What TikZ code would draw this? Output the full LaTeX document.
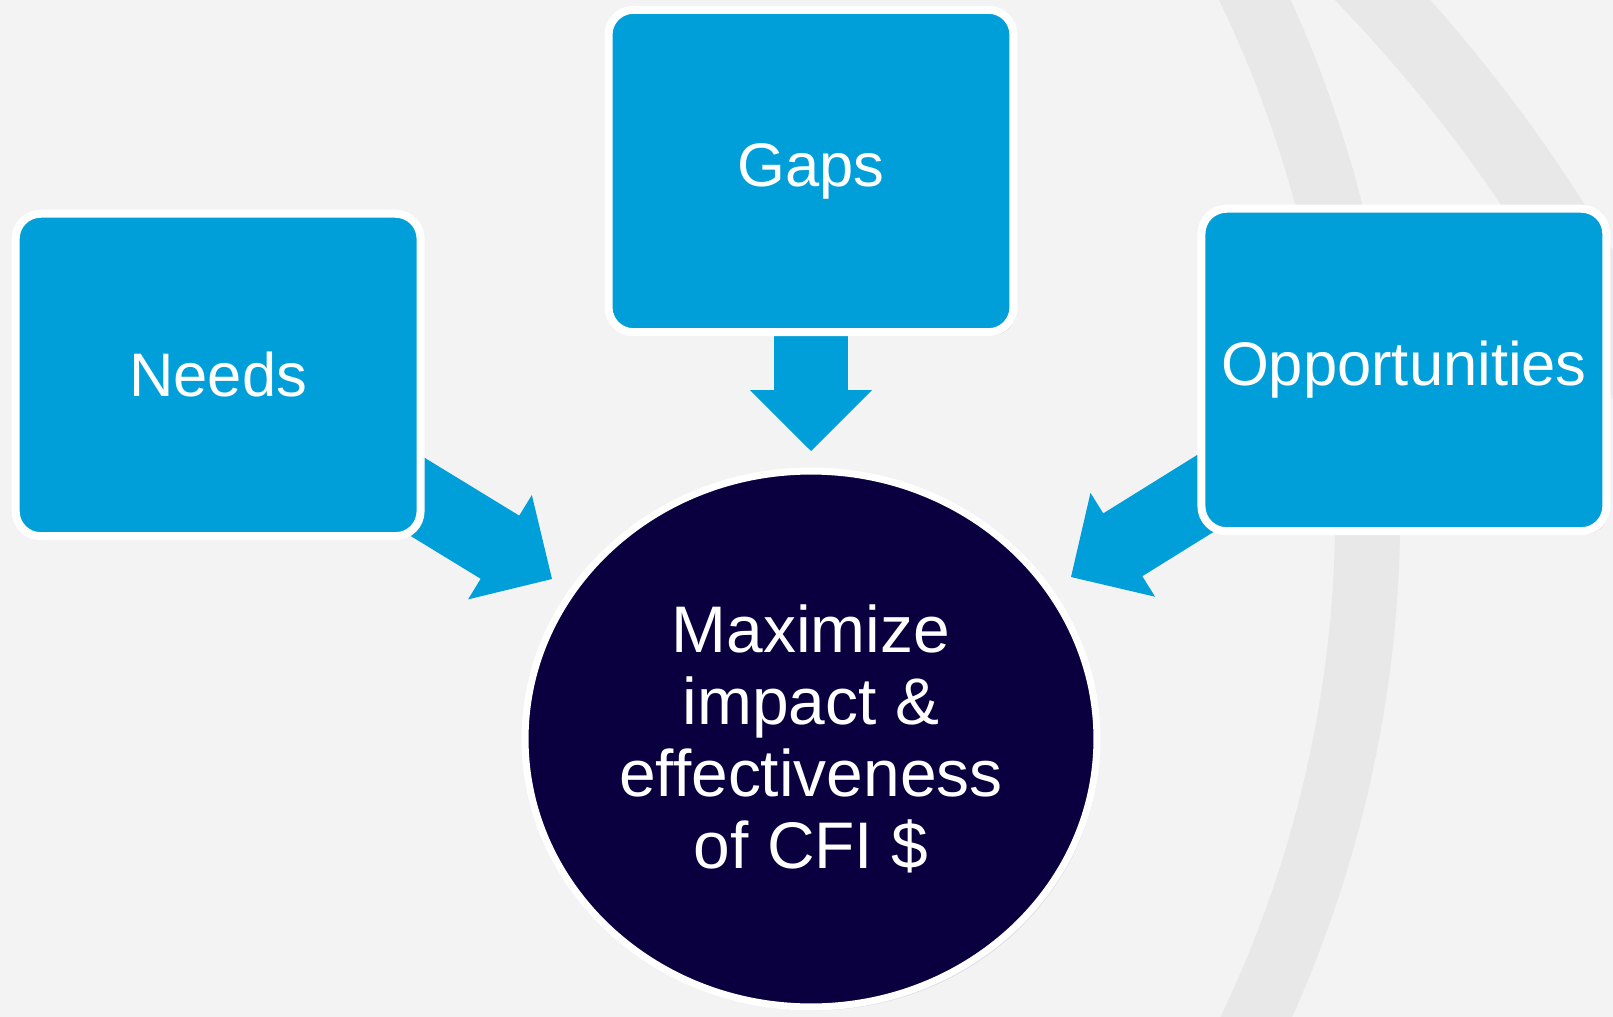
\documentclass[tikz,border=0pt]{standalone}
\usepackage{fontspec}
\setmainfont{Liberation Sans}
\usetikzlibrary{positioning,shapes.geometric,arrows.meta,shadows}

\definecolor{bggray}{HTML}{F3F3F3}
\definecolor{arcgray}{HTML}{E8E8E8}
\definecolor{cfiblue}{HTML}{009FDA}
\definecolor{cfinavy}{HTML}{0A0040}

\pgfdeclarelayer{background}
\pgfsetlayers{background,main}

\tikzset{
  box/.style={rectangle, rounded corners=0.5cm, draw=white, line width=0.16cm,
    fill=cfiblue, text=white, minimum width=8.1cm, minimum height=6.45cm,
    inner sep=0pt, font=\fontsize{35}{40}\selectfont,
    drop shadow={shadow xshift=1.5pt, shadow yshift=-2pt, opacity=0.25}},
  goal/.style={ellipse, draw=white, line width=0.14cm, fill=cfinavy,
    text=white, minimum width=11.44cm, minimum height=10.72cm, inner sep=0pt,
    align=center, font=\fontsize{37.5}{41}\selectfont,
    drop shadow={shadow xshift=1.5pt, shadow yshift=-2pt, opacity=0.2}},
  blockarrow/.style={draw=cfiblue, line width=1.48cm,
    -{Triangle[length=1.22cm, width=2.44cm, line width=1pt]}},
  arcband/.style={draw=arcgray, line width=1.3cm},
}

\begin{document}
\begin{tikzpicture}[x=0.02cm, y=-0.02cm]
   \useasboundingbox (0,0) rectangle (1613,1017);

   % centre goal
   \node[goal] (goal) at (811,739) {Maximize\\impact \&\\effectiveness\\of CFI \$};

   % the three inputs
   \node[box] (gaps) at (811,171) {Gaps};
   \node[box, on grid, below left=4.08cm and 11.86cm of gaps]  (needs) {Needs};
   \node[box, on grid, below right=3.98cm and 11.86cm of gaps] (opps)  {Opportunities};

   % arrow tips
   \coordinate (needs-tip) at (552,579);
   \coordinate (gaps-tip)  at (811,451);
   \coordinate (opps-tip)  at (1071,577);

   \begin{pgfonlayer}{background}
      \fill[bggray] (0,0) rectangle (1613,1017);

      % background arcs
      \begin{scope}
         \clip (0,0) rectangle (1613,1017);
         \draw[arcband] (161,510) circle[radius=24.14cm];
         \draw[arcband, line width=1.4cm] (250,1050) circle[radius=30.9cm];
      \end{scope}

      \draw[blockarrow] (needs.center) -- (needs-tip);
      \draw[blockarrow] (gaps.center)  -- (gaps-tip);
      \draw[blockarrow] (opps.center)  -- (opps-tip);
   \end{pgfonlayer}
\end{tikzpicture}
\end{document}
